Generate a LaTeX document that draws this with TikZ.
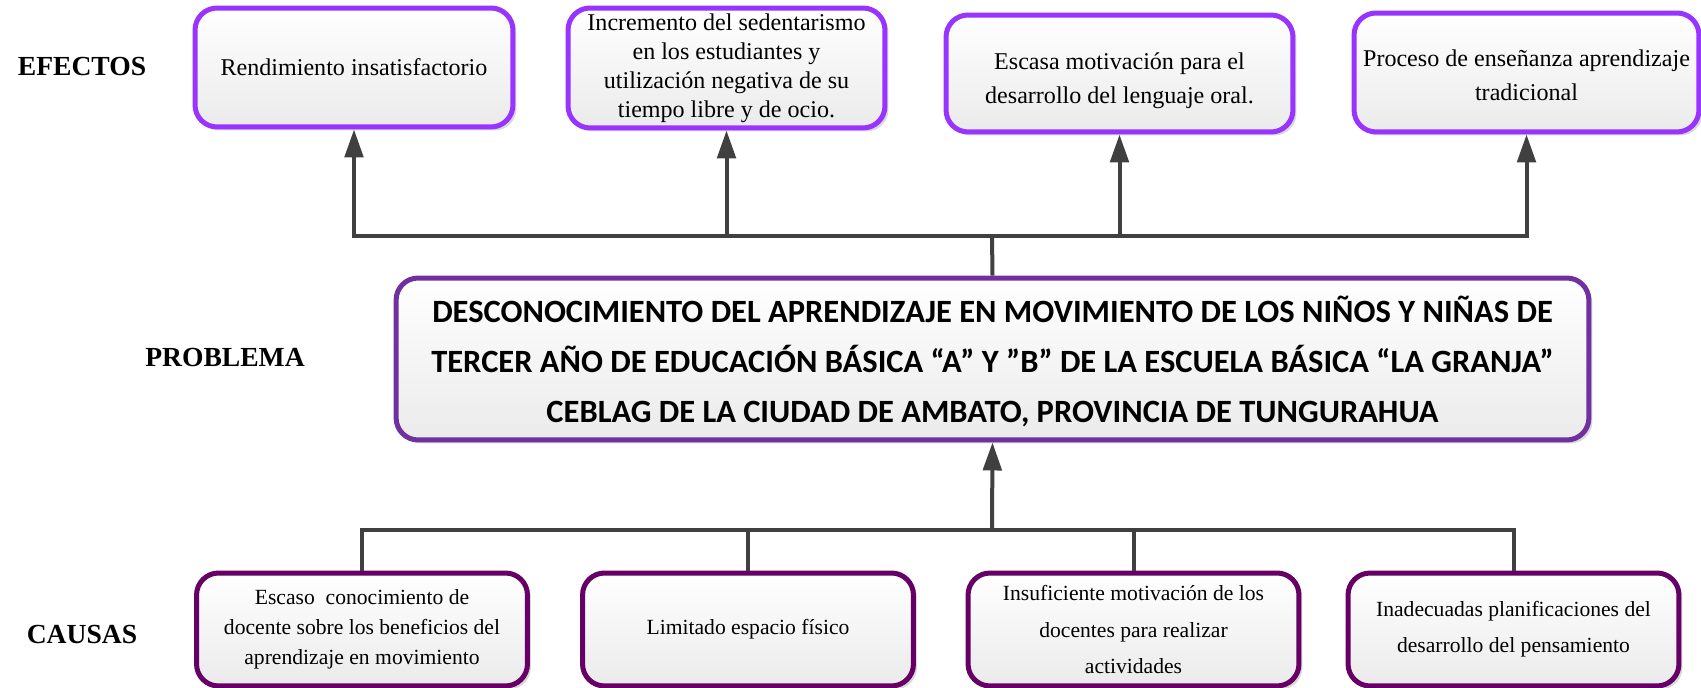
\documentclass[tikz,border=0pt]{standalone}
\usepackage{fontspec}
\setmainfont{Liberation Serif}
\newfontfamily\probfont{Carlito}
\usepackage{tikz}
\usetikzlibrary{calc, arrows.meta, shadows}

\definecolor{efcolor}{RGB}{153,51,255}
\definecolor{prcolor}{RGB}{112,48,160}
\definecolor{cacolor}{RGB}{102,0,102}
\definecolor{conncolor}{RGB}{64,64,64}

\begin{document}
\begin{tikzpicture}[x=0.02cm, y=-0.02cm,
    box/.style={draw, line width=0.1cm, rounded corners=0.44cm, align=center, inner sep=0pt,
        top color=white, bottom color=black!8,
        drop shadow={shadow xshift=0.07cm, shadow yshift=-0.07cm, fill=black!15, opacity=1}},
    effbox/.style={box, draw=efcolor, minimum height=2.38cm, font=\fontsize{13.7}{19.5}\selectfont},
    causebox/.style={box, draw=cacolor, minimum width=6.62cm, minimum height=2.26cm, font=\fontsize{12.3}{20.5}\selectfont},
    probbox/.style={box, draw=prcolor, minimum width=23.86cm, minimum height=3.24cm, font=\probfont\bfseries\fontsize{18.5}{28.5}\selectfont},
    heading/.style={font=\bfseries\fontsize{15.7}{18}\selectfont},
    conn/.style={draw=conncolor, line width=0.08cm},
    arr/.style={conn, -{Triangle[length=0.56cm, width=0.37cm]}}]
    \useasboundingbox (0,0) rectangle (1701,688);

    % titulos
    \node[heading] (tefectos) at (82,67) {EFECTOS};
    \node[heading] (tproblema) at (225,358) {PROBLEMA};
    \node[heading] (tcausas) at (82,635) {CAUSAS};

    % efectos
    \node[effbox, minimum width=6.36cm] (e1) at (354,67.5) {Rendimiento insatisfactorio};
    \node[effbox, minimum width=6.34cm, minimum height=2.40cm, font=\fontsize{13.7}{16.5}\selectfont] (e2) at (726.5,68)
        {Incremento del sedentarismo\\en los estudiantes y\\utilización negativa de su\\tiempo libre y de ocio.};
    \node[effbox, minimum width=6.94cm, minimum height=2.34cm] (e3) at (1119.5,73.5)
        {\rule{0pt}{17.5pt}Escasa motivación para el\\desarrollo del lenguaje oral.};
    \node[effbox, minimum width=6.90cm] (e4) at (1526.5,72.5)
        {\rule{0pt}{13pt}Proceso de enseñanza aprendizaje\\tradicional};

    % problema
    \node[probbox] (prob) at (992.5,359)
        {\rule{0pt}{17.5pt}DESCONOCIMIENTO DEL APRENDIZAJE EN MOVIMIENTO DE LOS NIÑOS Y NIÑAS DE\\
         TERCER AÑO DE EDUCACIÓN BÁSICA “A” Y ”B” DE LA ESCUELA BÁSICA “LA GRANJA”\\
         CEBLAG DE LA CIUDAD DE AMBATO, PROVINCIA DE TUNGURAHUA};

    % causas
    \node[causebox, font=\fontsize{12.3}{17}\selectfont] (c1) at (362,629.5)
        {Escaso\ \ conocimiento de\\docente sobre los beneficios del\\aprendizaje en movimiento};
    \node[causebox] (c2) at (748,629.5) {Limitado espacio físico};
    \node[causebox] (c3) at (1133.5,629.5)
        {Insuficiente motivación de los\\docentes para realizar\\actividades};
    \node[causebox] (c4) at (1513.5,629.5)
        {Inadecuadas planificaciones del\\desarrollo del pensamiento};

    % conectores
    \coordinate (topbar) at (992,236);
    \coordinate (botbar) at (992,530);
    \draw[conn] (prob.north) -- (topbar);
    \foreach \e in {e1,e2,e3,e4}
        \draw[arr] (topbar) -| (\e.south);
    \draw[arr] (botbar) -- (prob.south);
    \foreach \c in {c1,c2,c3,c4}
        \draw[conn] (botbar) -| (\c.north);
\end{tikzpicture}
\end{document}
